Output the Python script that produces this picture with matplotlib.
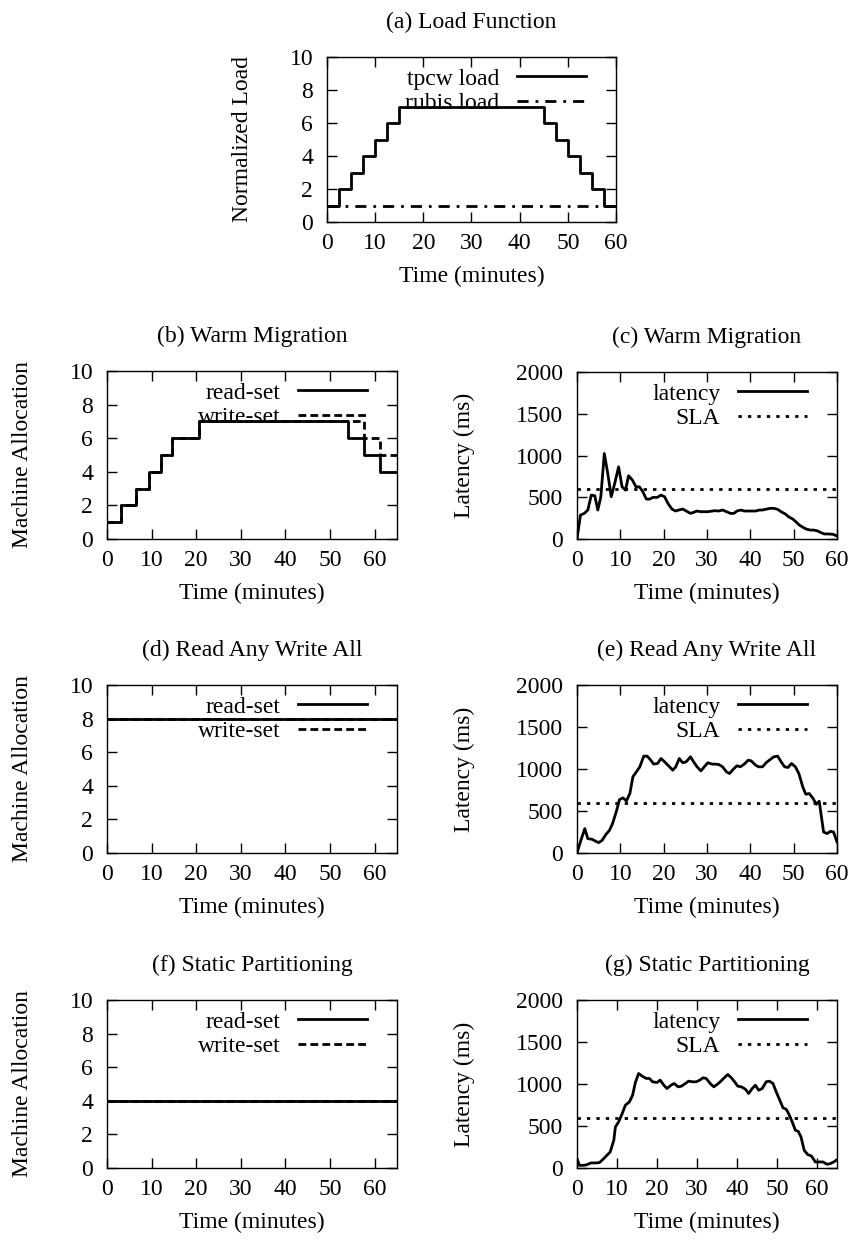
import numpy as np
import matplotlib
matplotlib.use("Agg")
import matplotlib.pyplot as plt

plt.rcParams['font.family'] = ['Liberation Serif', 'DejaVu Serif']
FS = 17
plt.rcParams['font.size'] = FS

# (a) load function, step values start at each time
load_t = [0, 2.5, 5, 7.5, 10, 12.5, 15, 45, 47.5, 50, 52.5, 55, 57.5, 60]
tpcw_load = [1, 2, 3, 4, 5, 6, 7, 6, 5, 4, 3, 2, 1, 1]
rubis_load = [1] * len(load_t)

# (b) warm migration allocation
warm_t = [0, 3.2, 6.6, 9.4, 12.1, 14.5, 20.6, 54, 57.5, 61.1, 65]
warm_read = [1, 2, 3, 4, 5, 6, 7, 6, 5, 4, 4]
warm_write = [1, 2, 3, 4, 5, 6, 7, 7, 6, 5, 5]

# (d) read any write all, (f) static partitioning allocation
flat_t = [0, 65]
rawa_read = [8, 8]
rawa_write = [8, 8]
static_read = [4, 4]
static_write = [4, 4]

sla = 600

# (c) warm migration latency
warm_lat_t = [0, 0.8, 1.7, 2.5, 3.3, 4.1, 4.8, 5.5, 6.3, 7.1, 7.9, 8.7, 9.6, 10.4,
              11.2, 11.9, 12.8, 13.6, 14.4, 15.2, 16, 16.8, 17.5, 18.5, 19.4, 20.2,
              21, 21.9, 22.7, 23.5, 24.4, 25.2, 26.2, 26.9, 27.7, 28.6, 29.4, 30.2,
              31.2, 31.9, 32.7, 33.6, 34.5, 35.4, 36.2, 36.9, 37.8, 38.6, 39.6, 40.4,
              41.2, 42.1, 42.8, 43.8, 44.6, 45.4, 46.3, 47.1, 48.1, 48.8, 49.8, 50.5,
              51.3, 52.2, 52.9, 53.8, 54.6, 55.4, 56.3, 57.1, 58.1, 59.1, 60]
warm_lat = [0, 287, 307, 347, 526, 518, 347, 506, 1024, 785, 506, 665, 864, 625,
            585, 757, 705, 625, 625, 566, 478, 478, 498, 498, 526, 506,
            426, 359, 335, 347, 359, 335, 307, 319, 335, 327, 327, 327,
            335, 339, 335, 347, 327, 307, 307, 335, 347, 335, 335, 335,
            335, 347, 347, 359, 367, 367, 355, 327, 299, 267, 239, 207,
            167, 139, 119, 107, 107, 99, 76, 60, 60, 56, 36]

# (e) read any write all latency
rawa_lat_t = [0, 0.9, 1.8, 2.5, 3.5, 4.2, 5, 5.8, 6.7, 7.5, 8.2, 9.1, 9.8, 10.6,
              11.4, 12.2, 12.9, 13.7, 14.5, 15.4, 16.2, 16.9, 17.7, 18.6, 19.4, 20.2,
              21.2, 22.1, 22.8, 23.6, 24.4, 25.2, 26.2, 26.9, 27.7, 28.6, 29.5, 30.2,
              31.2, 31.9, 32.7, 33.6, 34.5, 35.2, 36, 36.9, 37.7, 38.6, 39.5, 40.2,
              41.2, 41.9, 42.8, 43.7, 44.6, 45.4, 46.3, 47.1, 47.9, 48.7, 49.5, 50.4,
              51.2, 52.1, 52.8, 53.6, 54.5, 55.2, 55.9, 56.9, 57.7, 58.5, 59.2, 60]
rawa_lat = [0, 151, 290, 171, 163, 143, 123, 151, 223, 270, 350, 497, 636, 656,
            620, 708, 907, 966, 1026, 1153, 1153, 1113, 1058, 1066, 1125, 1086,
            1034, 986, 1026, 1125, 1074, 1086, 1145, 1086, 1026, 978, 1034, 1074,
            1058, 1058, 1054, 1026, 966, 946, 994, 1038, 1026, 1058, 1105, 1097,
            1046, 1026, 1026, 1078, 1113, 1145, 1153, 1086, 1026, 1018, 1066, 1026,
            946, 787, 700, 708, 648, 580, 616, 250, 231, 258, 250, 131]

# (g) static partitioning latency
static_lat_t = [0, 0.6, 1.7, 2.5, 3.5, 4.6, 5.6, 6.5, 7.3, 8.3, 9.2, 9.6, 10.4, 11.3,
                12.1, 13.1, 13.9, 14.6, 15.4, 16.3, 17.3, 18.1, 18.9, 20, 20.8, 21.7,
                22.5, 23.5, 24.3, 25.3, 26.1, 27.1, 27.9, 28.9, 29.8, 30.7, 31.5, 32.3,
                33.3, 34.2, 35, 35.8, 36.8, 37.7, 38.6, 39.4, 40.2, 41.1, 42.1, 42.9,
                43.8, 44.6, 45.4, 46.3, 47.3, 48.1, 49, 49.8, 50.7, 51.5, 52.3, 52.9,
                53.8, 54.6, 55.3, 56, 56.8, 57.7, 58.6, 59.6, 60.4, 61.5, 62.5, 63.3,
                64.2, 65]
static_lat = [111, 32, 32, 40, 60, 60, 64, 103, 143, 191, 330, 489, 549, 648,
              748, 787, 867, 1018, 1125, 1093, 1066, 1066, 1026, 1018, 1046, 986,
              946, 986, 1006, 966, 974, 1006, 1034, 1026, 1026, 1046, 1074, 1066,
              1006, 966, 994, 1026, 1074, 1113, 1074, 1026, 974, 966, 938, 887,
              946, 986, 926, 946, 1026, 1034, 1006, 907, 807, 716, 700, 648,
              549, 449, 437, 370, 211, 159, 143, 72, 72, 72, 44, 52,
              72, 99]

W, H = 858, 1246
fig = plt.figure(figsize=(W / 100, H / 100), dpi=100)


def make_axes(left, right, top, bottom, title, ylabel, ylabel_x):
    ax = fig.add_axes([left / W, 1 - bottom / H, (right - left) / W, (bottom - top) / H])
    cx = (left + right) / 2
    fig.text(cx / W, 1 - (top - 35) / H, title, ha='center', va='center')
    fig.text(cx / W, 1 - (bottom + 54) / H, 'Time (minutes)', ha='center', va='center')
    fig.text(ylabel_x / W, 1 - (top + bottom) / 2 / H, ylabel, rotation=90,
             ha='center', va='center')
    return ax


def style(ax, xmax, ymax, ystep):
    ax.set_xlim(0, xmax)
    ax.set_ylim(0, ymax)
    ax.set_xticks(np.arange(0, 61, 10))
    ax.set_yticks(np.arange(0, ymax + 1, ystep))
    ax.tick_params(direction='in', top=True, right=True, length=7, width=1)
    ax.tick_params(axis='x', pad=8)
    ax.tick_params(axis='y', pad=10)
    for s in ax.spines.values():
        s.set_linewidth(1.0)


def add_legend(ax):
    bb = ax.get_position()
    wpx = bb.width * W
    hpx = bb.height * H
    leg = ax.legend(loc='upper right', bbox_to_anchor=(1 - 30 / wpx, 1 - 11 / hpx),
                    frameon=False, markerfirst=False, handlelength=69 / (FS * 1.389),
                    handletextpad=0.75, labelspacing=0.12, borderpad=0.0,
                    borderaxespad=0.0, fontsize=FS)
    leg.set_zorder(1)


lw = 2.0
dashed = (0, (2.8, 1.5))
dotted = (0, (1.2, 2.2))
dashdot = (0, (4, 2.5, 1, 2.5))

# (a)
ax = make_axes(327, 616, 57, 222, '(a) Load Function', 'Normalized Load', 242)
ax.step(load_t, tpcw_load, where='post', color='black', lw=lw, label='tpcw load')
ax.step(load_t, rubis_load, where='post', color='black', lw=lw,
        linestyle=dashdot, label='rubis load')
style(ax, 60, 10, 2)
add_legend(ax)

# (b)
ax = make_axes(107, 397, 371, 539, '(b) Warm Migration', 'Machine Allocation', 23)
ax.step(warm_t, warm_read, where='post', color='black', lw=lw, label='read-set')
ax.step(warm_t, warm_write, where='post', color='black', lw=lw,
        linestyle=dashed, label='write-set')
style(ax, 65, 10, 2)
add_legend(ax)

# (c)
ax = make_axes(577, 837, 372, 539, '(c) Warm Migration', 'Latency (ms)', 464)
ax.plot(warm_lat_t, warm_lat, color='black', lw=lw, label='latency')
ax.axhline(sla, color='black', lw=lw, linestyle=dotted, label='SLA')
style(ax, 60, 2000, 500)
add_legend(ax)

# (d)
ax = make_axes(107, 397, 685, 853, '(d) Read Any Write All', 'Machine Allocation', 23)
ax.plot(flat_t, rawa_read, color='black', lw=lw, label='read-set')
ax.plot(flat_t, rawa_write, color='black', lw=lw, linestyle=dashed, label='write-set')
style(ax, 65, 10, 2)
add_legend(ax)

# (e)
ax = make_axes(577, 837, 685, 853, '(e) Read Any Write All', 'Latency (ms)', 464)
ax.plot(rawa_lat_t, rawa_lat, color='black', lw=lw, label='latency')
ax.axhline(sla, color='black', lw=lw, linestyle=dotted, label='SLA')
style(ax, 60, 2000, 500)
add_legend(ax)

# (f)
ax = make_axes(107, 397, 1000, 1168, '(f) Static Partitioning', 'Machine Allocation', 23)
ax.plot(flat_t, static_read, color='black', lw=lw, label='read-set')
ax.plot(flat_t, static_write, color='black', lw=lw, linestyle=dashed, label='write-set')
style(ax, 65, 10, 2)
add_legend(ax)

# (g)
ax = make_axes(577, 837, 1000, 1168, '(g) Static Partitioning', 'Latency (ms)', 464)
ax.plot(static_lat_t, static_lat, color='black', lw=lw, label='latency')
ax.axhline(sla, color='black', lw=lw, linestyle=dotted, label='SLA')
style(ax, 65, 2000, 500)
add_legend(ax)

fig.savefig('out.png', dpi=100)
